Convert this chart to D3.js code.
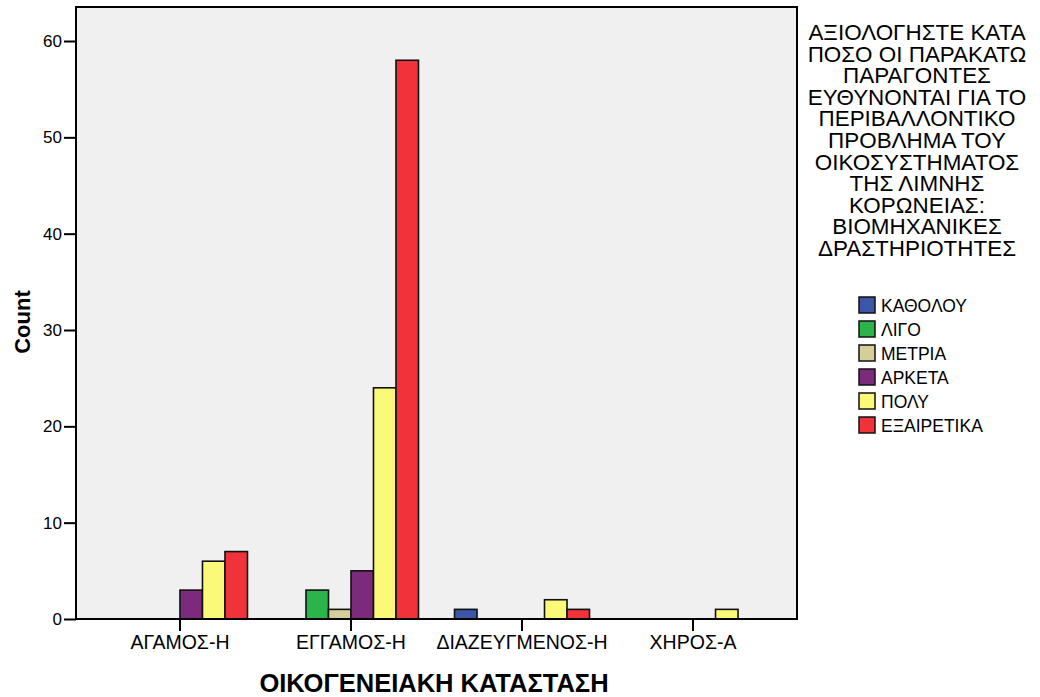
<!DOCTYPE html>
<html>
<head>
<meta charset="utf-8">
<script src="https://cdn.jsdelivr.net/npm/d3@7"></script>
<style>
  body { margin: 0; background: #fff; }
  text { font-family: "Liberation Sans", Arial, sans-serif; }
</style>
</head>
<body>
<svg id="chart"></svg>
<script>
// categories on the x axis
var categories = ["ΑΓΑΜΟΣ-Η", "ΕΓΓΑΜΟΣ-Η", "ΔΙΑΖΕΥΓΜΕΝΟΣ-Η", "ΧΗΡΟΣ-Α"];
// legend series
var seriesNames = ["ΚΑΘΟΛΟΥ", "ΛΙΓΟ", "ΜΕΤΡΙΑ", "ΑΡΚΕΤΑ", "ΠΟΛΥ", "ΕΞΑΙΡΕΤΙΚΑ"];
var seriesColors = ["#3d56a8", "#2cb44a", "#d4cf98", "#7c2a7c", "#fafa78", "#f0323b"];
// counts per series, one value per category
var katholou = [0, 0, 1, 0];
var ligo = [0, 3, 0, 0];
var metria = [0, 1, 0, 0];
var arketa = [3, 5, 0, 0];
var poly = [6, 24, 2, 1];
var exairetika = [7, 58, 1, 0];
var seriesValues = [katholou, ligo, metria, arketa, poly, exairetika];
var yTicks = [0, 10, 20, 30, 40, 50, 60];
var legendTitle = ["ΑΞΙΟΛΟΓΗΣΤΕ ΚΑΤΑ", "ΠΟΣΟ ΟΙ ΠΑΡΑΚΑΤΩ", "ΠΑΡΑΓΟΝΤΕΣ", "ΕΥΘΥΝΟΝΤΑΙ ΓΙΑ ΤΟ",
    "ΠΕΡΙΒΑΛΛΟΝΤΙΚΟ", "ΠΡΟΒΛΗΜΑ ΤΟΥ", "ΟΙΚΟΣΥΣΤΗΜΑΤΟΣ", "ΤΗΣ ΛΙΜΝΗΣ", "ΚΟΡΩΝΕΙΑΣ:",
    "ΒΙΟΜΗΧΑΝΙΚΕΣ", "ΔΡΑΣΤΗΡΙΟΤΗΤΕΣ"];

const dims = { width: 1040, height: 697, left: 76, right: 797, top: 7, bottom: 619 };

const svg = d3.select("#chart")
    .attr("width", dims.width)
    .attr("height", dims.height);

// scales
const x = d3.scaleBand()
    .domain(categories)
    .range([dims.left, dims.right])
    .paddingInner(0)
    .paddingOuter(0.108);

const y = d3.scaleLinear()
    .domain([0, 63.53])
    .range([dims.bottom, dims.top]);

const barW = 22.5;
const xs = d3.scaleBand()
    .domain(d3.range(seriesNames.length))
    .range([-barW * 3, barW * 3]);

// plot background
svg.append("rect")
    .attr("x", dims.left).attr("y", dims.top)
    .attr("width", dims.right - dims.left)
    .attr("height", dims.bottom - dims.top)
    .attr("fill", "#f0f0f0");

// bars
const bars = [];
seriesValues.forEach((vals, si) => {
    vals.forEach((v, ci) => {
        if (v > 0) bars.push({ s: si, c: categories[ci], v: v });
    });
});

svg.append("g").selectAll("rect")
    .data(bars)
    .join("rect")
    .attr("x", d => x(d.c) + x.bandwidth() / 2 + xs(d.s))
    .attr("y", d => y(d.v))
    .attr("width", xs.bandwidth())
    .attr("height", d => y(0) - y(d.v))
    .attr("fill", d => seriesColors[d.s])
    .attr("stroke", "#111")
    .attr("stroke-width", 1.6);

// frame
svg.append("rect")
    .attr("x", dims.left).attr("y", dims.top)
    .attr("width", dims.right - dims.left)
    .attr("height", dims.bottom - dims.top)
    .attr("fill", "none")
    .attr("stroke", "#000")
    .attr("stroke-width", 2);

// y axis
const yAxis = svg.append("g")
    .attr("transform", `translate(${dims.left},0)`)
    .call(d3.axisLeft(y).tickValues(yTicks).tickSize(12).tickPadding(2))
    .call(g => g.select(".domain").remove());
yAxis.selectAll("line").attr("stroke", "#000").attr("stroke-width", 2);
yAxis.selectAll("text").attr("font-size", 17).attr("fill", "#000")
    .attr("font-family", "Liberation Sans, Arial, sans-serif");

// x axis
const xAxis = svg.append("g")
    .attr("transform", `translate(0,${dims.bottom})`)
    .call(d3.axisBottom(x).tickSize(12).tickPadding(4))
    .call(g => g.select(".domain").remove());
xAxis.selectAll("line").attr("stroke", "#000").attr("stroke-width", 2);
xAxis.selectAll("text").attr("font-size", 19.5).attr("fill", "#000")
    .attr("font-family", "Liberation Sans, Arial, sans-serif");

// axis titles
svg.append("text")
    .attr("transform", "translate(30,322) rotate(-90)")
    .attr("text-anchor", "middle")
    .attr("font-size", 22)
    .attr("font-weight", "bold")
    .text("Count");

svg.append("text")
    .attr("x", 434).attr("y", 692)
    .attr("text-anchor", "middle")
    .attr("font-size", 25.5)
    .attr("font-weight", "bold")
    .text("ΟΙΚΟΓΕΝΕΙΑΚΗ ΚΑΤΑΣΤΑΣΗ");

// legend title (tight line spacing, taller glyphs as in the original)
const lt = svg.append("text")
    .attr("text-anchor", "middle")
    .attr("font-size", 19.5)
    .attr("transform", "translate(917,0) scale(1.15,1.1)");
lt.selectAll("tspan")
    .data(legendTitle)
    .join("tspan")
    .attr("x", 0)
    .attr("y", (d, i) => (40 + i * 21.6) / 1.1)
    .text(d => d);

// legend items
const leg = svg.append("g")
    .selectAll("g")
    .data(seriesNames)
    .join("g")
    .attr("transform", (d, i) => `translate(859,${297 + i * 24})`);
leg.append("rect")
    .attr("width", 16).attr("height", 16)
    .attr("fill", (d, i) => seriesColors[i])
    .attr("stroke", "#111")
    .attr("stroke-width", 1.5);
leg.append("text")
    .attr("x", 22).attr("y", 14.5)
    .attr("font-size", 17.5)
    .text(d => d);
</script>
</body>
</html>
